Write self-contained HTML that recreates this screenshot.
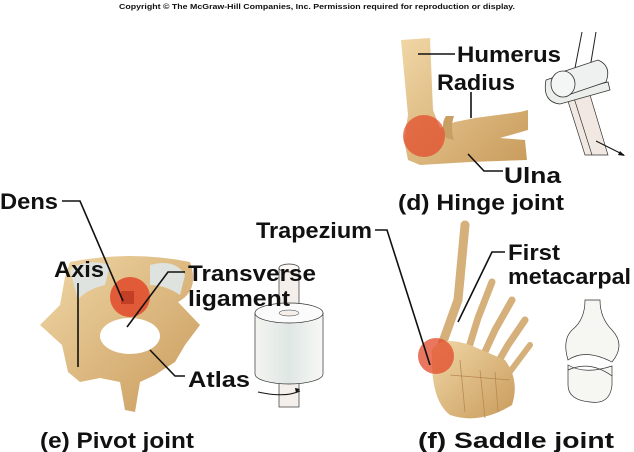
<!DOCTYPE html>
<html><head><meta charset="utf-8"><style>
html,body{margin:0;padding:0;background:#fff;width:634px;height:452px;overflow:hidden}
text{font-family:"Liberation Sans",sans-serif;font-weight:bold;fill:#111}
</style></head><body>
<svg width="634" height="452" viewBox="0 0 634 452" xmlns="http://www.w3.org/2000/svg">
<defs>
<linearGradient id="bone" x1="0" y1="0" x2="1" y2="1"><stop offset="0" stop-color="#f0d7a6"/><stop offset="1" stop-color="#c99b5c"/></linearGradient>
<linearGradient id="cyl" x1="0" y1="0" x2="1" y2="0"><stop offset="0" stop-color="#f4f4f0"/><stop offset="0.5" stop-color="#dfe7e4"/><stop offset="1" stop-color="#f8f8f6"/></linearGradient>
</defs>
<text x="317" y="9" font-size="7.2" text-anchor="middle" textLength="396" lengthAdjust="spacingAndGlyphs">Copyright © The McGraw-Hill Companies, Inc. Permission required for reproduction or display.</text>

<!-- Hinge: elbow -->
<path d="M401 40 L430 38 L433 110 L440 128 L455 122 L475 118 L520 112 L528 110 L528 130 L500 138 L525 140 L527 160 L470 162 L420 165 L408 160 L404 140 L408 115 Z" fill="url(#bone)"/>
<path d="M446 116 q-6 8 0 22 l8 2 q-4 -12 0 -24 z" fill="#c9a064"/>
<circle cx="424" cy="136" r="21" fill="#e2492a" opacity="0.72"/>
<!-- hinge model -->
<path d="M582 32 L575 68 M596 32 L590 68" stroke="#222" stroke-width="1" fill="none"/>
<path d="M567 98 L585 155 L608 155 L590 95 Z" fill="#f1e9e1" stroke="#333" stroke-width="0.7"/>
<path d="M574 98 L592 155" stroke="#333" stroke-width="0.7"/>
<path d="M546 80 q-4 22 14 24 l50 -14 l-2 -8 l-48 12 q-10 -2 -8 -16z" fill="#eceeec" stroke="#333" stroke-width="0.8"/>
<path d="M562 72 L598 60 Q612 66 606 82 L568 95 Z" fill="#eef1f0" stroke="#333" stroke-width="0.8"/>
<ellipse cx="563" cy="84" rx="12" ry="13" fill="#f4f6f5" stroke="#333" stroke-width="0.8"/>
<path d="M596 141 L624 155" stroke="#111" stroke-width="1"/><path d="M625 156 l-7 -1 l2 -4z" fill="#111"/>
<g stroke="#111" stroke-width="1.6" fill="none">
<path d="M418 54 H455"/><path d="M471 92 V118"/><path d="M468 154 L484 171 H503"/>
</g>
<text x="457" y="62" font-size="22" textLength="104" lengthAdjust="spacingAndGlyphs">Humerus</text>
<text x="437" y="90" font-size="22" textLength="78" lengthAdjust="spacingAndGlyphs">Radius</text>
<text x="504" y="183" font-size="22" textLength="57" lengthAdjust="spacingAndGlyphs">Ulna</text>
<text x="398" y="210" font-size="22" textLength="166" lengthAdjust="spacingAndGlyphs">(d) Hinge joint</text>

<!-- Pivot: vertebra -->
<path d="M70 262 Q130 250 190 262 Q200 290 178 302 L200 325 L185 345 L175 362 L155 375 L140 382 L135 412 L125 410 L120 382 L100 378 L80 382 L68 372 L62 345 L40 325 L60 305 L65 277 Z" fill="url(#bone)"/>
<path d="M70 270 Q85 258 110 265 L105 285 Q85 290 78 300 Z" fill="#dfe3e0"/>
<path d="M150 265 Q175 258 185 275 L180 295 Q165 285 150 285 Z" fill="#dfe3e0"/>
<ellipse cx="130" cy="336" rx="30" ry="18" fill="#fff"/>
<circle cx="130" cy="297" r="20" fill="#e2492a" opacity="0.85"/>
<rect x="121" y="291" width="13" height="13" fill="#c23e24"/>
<!-- pivot model -->
<rect x="279" y="268" width="20" height="44" fill="#f4efeb" stroke="#333" stroke-width="0.7"/>
<ellipse cx="289" cy="268" rx="10" ry="4" fill="#fbf8f5" stroke="#333" stroke-width="0.7"/>
<rect x="279" y="380" width="20" height="27" fill="#f4efeb" stroke="#333" stroke-width="0.7"/>
<path d="M255 313 V374 A34 10 0 0 0 323 374 V313 Z" fill="url(#cyl)" stroke="#333" stroke-width="0.7"/>
<ellipse cx="289" cy="313" rx="34" ry="10" fill="#fafbfa" stroke="#333" stroke-width="0.7"/>
<ellipse cx="289" cy="313" rx="10" ry="3" fill="#f4efeb" stroke="#333" stroke-width="0.5"/>
<path d="M258 392 Q285 398 300 391" stroke="#111" fill="none"/><path d="M300 389 l-5 -1 l1 5z" fill="#111"/>
<g stroke="#111" stroke-width="1.6" fill="none">
<path d="M62 201 H80 L123 301"/><path d="M78 283 V367"/><path d="M185 272 H168 L127 327"/><path d="M150 350 L175 376 H185"/>
</g>
<text x="0" y="209" font-size="22" textLength="58" lengthAdjust="spacingAndGlyphs">Dens</text>
<text x="54" y="277" font-size="22" textLength="50" lengthAdjust="spacingAndGlyphs">Axis</text>
<text x="188" y="281" font-size="22" textLength="128" lengthAdjust="spacingAndGlyphs">Transverse</text>
<text x="188" y="306" font-size="22" textLength="102" lengthAdjust="spacingAndGlyphs">ligament</text>
<text x="188" y="387" font-size="22" textLength="62" lengthAdjust="spacingAndGlyphs">Atlas</text>
<text x="40" y="448" font-size="22" textLength="154" lengthAdjust="spacingAndGlyphs">(e) Pivot joint</text>

<!-- Saddle: hand -->
<g stroke="#d6b07a" stroke-linecap="round" fill="none">
<path d="M465 225 L458 300 L440 350" stroke-width="9"/>
<path d="M462 370 L478 318 L492 282" stroke-width="7"/>
<path d="M472 380 L495 330 L512 300" stroke-width="7"/>
<path d="M485 385 L508 345 L525 320" stroke-width="7"/>
<path d="M495 392 L515 365 L530 345" stroke-width="6"/>
</g>
<path d="M432 350 Q440 335 470 345 L505 360 Q520 380 512 405 Q480 425 450 415 Q430 400 432 350 Z" fill="url(#bone)"/>
<g stroke="#b88a52" stroke-width="0.8" fill="none"><path d="M450 375 L510 380 M460 360 L465 412 M480 370 L485 418 M495 372 L498 412"/></g>
<circle cx="436" cy="356" r="18" fill="#e2492a" opacity="0.75"/>
<!-- saddle model -->
<path d="M585 300 Q585 320 572 330 Q562 340 568 360 Q585 348 612 362 Q626 345 612 330 Q600 318 600 300 Z" fill="#f6f6f2" stroke="#333" stroke-width="0.7"/>
<path d="M568 365 Q585 375 612 366 L612 385 Q610 405 590 402 Q568 400 568 385 Z" fill="#f6f6f2" stroke="#333" stroke-width="0.7"/>
<path d="M568 370 Q590 360 612 376" stroke="#333" fill="none" stroke-width="0.7"/>
<g stroke="#111" stroke-width="1.6" fill="none">
<path d="M375 230 H387 L430 365"/><path d="M505 252 H492 L458 322"/>
</g>
<text x="256" y="238" font-size="22" textLength="116" lengthAdjust="spacingAndGlyphs">Trapezium</text>
<text x="508" y="260" font-size="22" textLength="52" lengthAdjust="spacingAndGlyphs">First</text>
<text x="508" y="284" font-size="22" textLength="123" lengthAdjust="spacingAndGlyphs">metacarpal</text>
<text x="418" y="448" font-size="22" textLength="196" lengthAdjust="spacingAndGlyphs">(f) Saddle joint</text>
</svg>
</body></html>
